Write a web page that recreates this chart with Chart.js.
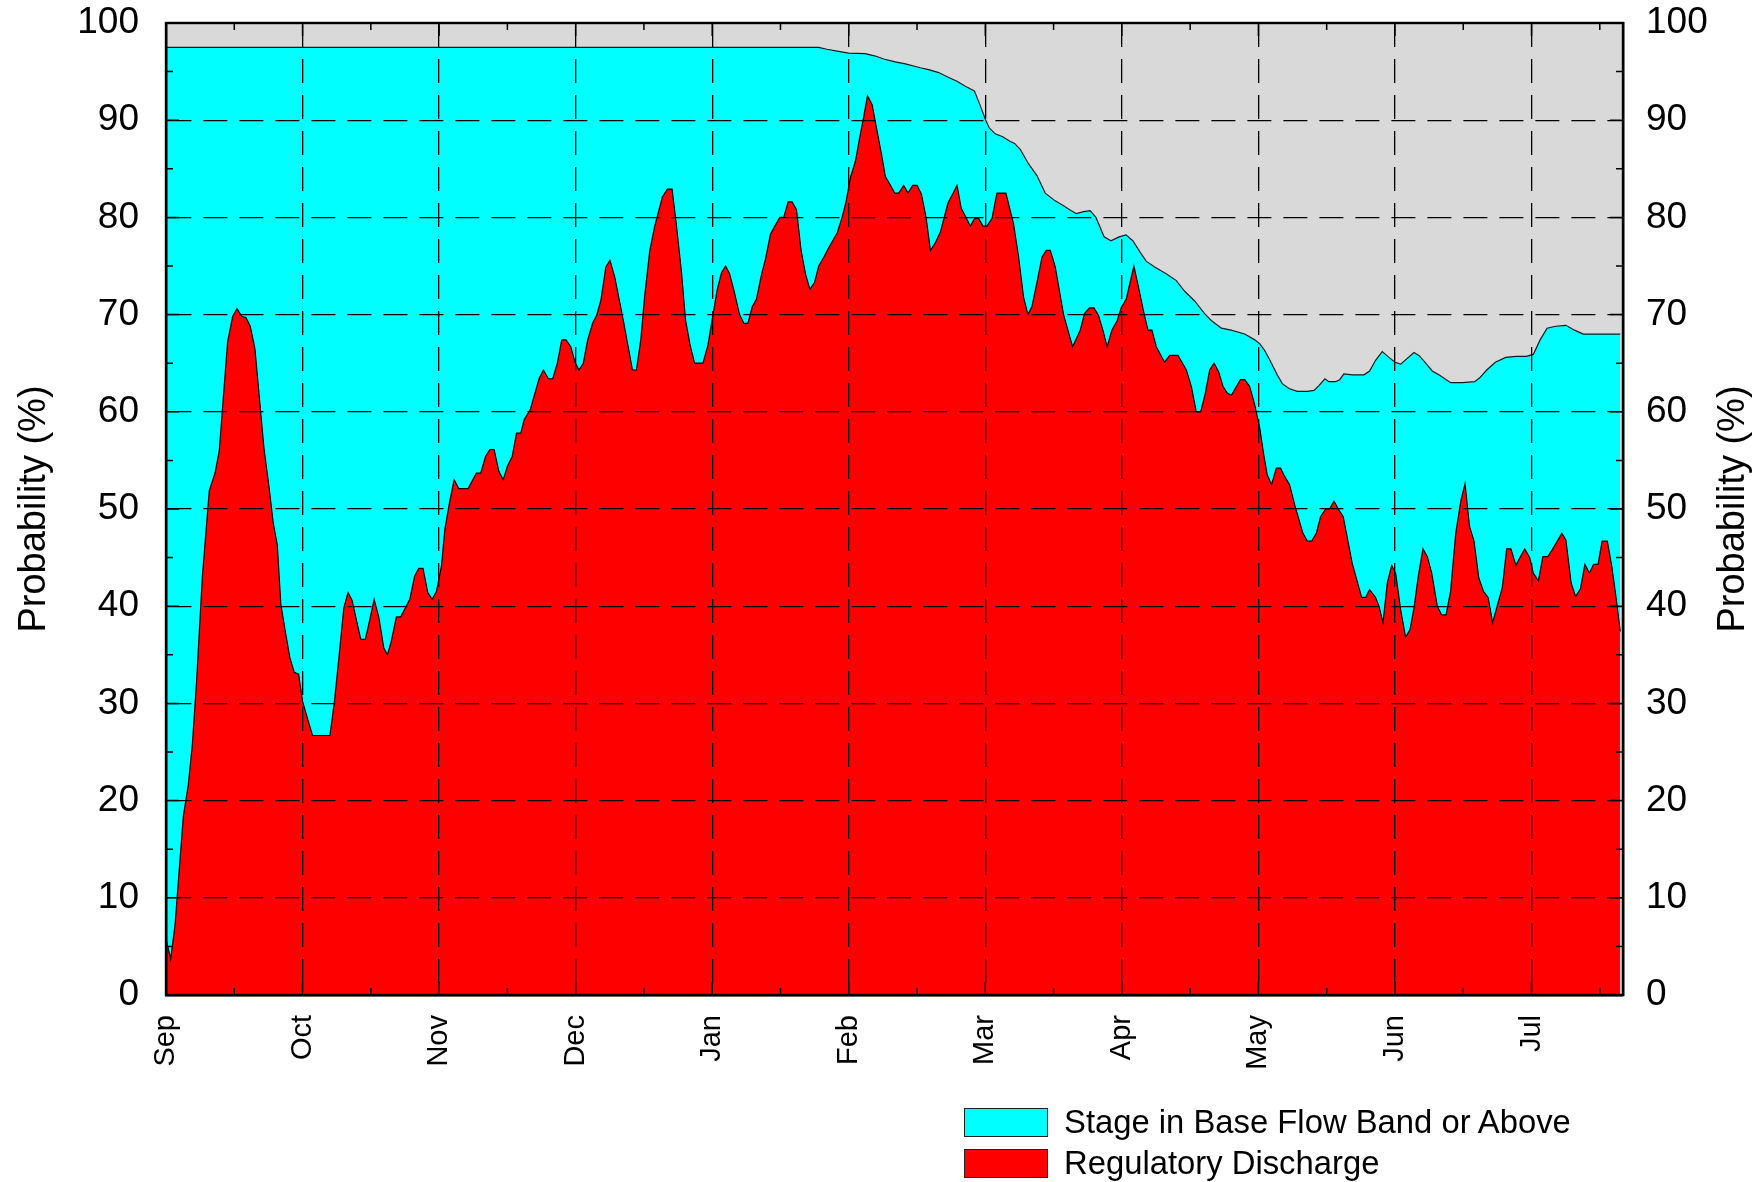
<!DOCTYPE html>
<html>
<head>
<meta charset="utf-8">
<script src="https://cdn.jsdelivr.net/npm/chart.js@4.4.0/dist/chart.umd.min.js"></script>
<style>
html,body{margin:0;padding:0;background:#fff;width:1763px;height:1182px;overflow:hidden;}
#wrap{position:relative;width:1763px;height:1182px;}
#c{position:absolute;left:0;top:0;}
.lg-box{position:absolute;left:964px;width:84px;height:29px;box-sizing:border-box;border:1.5px solid #222;}
.lg-txt{position:absolute;left:1064px;height:29px;line-height:29px;font-family:'Liberation Sans',Arial,sans-serif;font-size:32.8px;color:#000;white-space:nowrap;}
</style>
</head>
<body>
<div id="wrap">
<canvas id="c" width="1763" height="1182" style="width:1763px;height:1182px"></canvas>
<div class="lg-box" style="top:1108px;background:#00ffff"></div>
<div class="lg-txt" style="top:1107px">Stage in Base Flow Band or Above</div>
<div class="lg-box" style="top:1149px;background:#ff0000"></div>
<div class="lg-txt" style="top:1148px">Regulatory Discharge</div>
</div>
<script>
// x positions in months since Sep 1 (0 = Sep, 1 = Oct, ...)
const monthLabels = ['Sep','Oct','Nov','Dec','Jan','Feb','Mar','Apr','May','Jun','Jul'];
const yTickValues = [0,10,20,30,40,50,60,70,80,90,100];

const stageX = [0,4.78,4.84,4.915,5.0,5.12,5.195,5.256,5.341,5.415,5.524,5.585,5.659,5.732,5.793,5.854,5.92,5.963,6.0,6.029,6.073,6.127,6.183,6.215,6.256,6.317,6.378,6.439,6.512,6.573,6.627,6.666,6.72,6.768,6.81,6.87,6.92,6.98,7.03,7.08,7.13,7.178,7.24,7.325,7.399,7.46,7.533,7.606,7.655,7.729,7.8,7.9,7.973,8.01,8.046,8.077,8.138,8.175,8.224,8.284,8.358,8.407,8.443,8.487,8.516,8.565,8.595,8.626,8.687,8.773,8.814,8.858,8.907,8.956,9.0,9.042,9.09,9.139,9.176,9.225,9.273,9.322,9.408,9.495,9.584,9.621,9.672,9.735,9.811,9.886,9.962,10.013,10.063,10.114,10.177,10.252,10.315,10.379,10.479,10.65];
const stageY = [97.5,97.5,97.3,97.1,96.9,96.85,96.6,96.3,96.0,95.8,95.4,95.2,94.9,94.4,94.0,93.5,93.0,91.5,90.1,89.2,88.6,88.3,87.8,87.6,87.0,85.5,84.3,82.5,81.7,81.2,80.7,80.4,80.6,80.7,80.0,78.0,77.6,78.0,78.2,77.6,76.5,75.5,74.9,74.2,73.5,72.4,71.4,70.1,69.4,68.6,68.4,68.0,67.4,67.0,66.3,65.5,63.8,62.9,62.4,62.1,62.1,62.2,62.7,63.4,63.1,63.1,63.3,63.9,63.8,63.8,64.2,65.3,66.2,65.6,65.1,64.9,65.5,66.1,65.8,65.0,64.2,63.8,63.0,63.0,63.1,63.5,64.3,65.1,65.6,65.7,65.7,65.9,67.4,68.6,68.8,68.9,68.4,68.0,68.0,68.0];

const regX = [0,0.034,0.066,0.127,0.163,0.193,0.224,0.266,0.317,0.359,0.39,0.451,0.488,0.52,0.556,0.585,0.617,0.651,0.717,0.754,0.785,0.815,0.841,0.876,0.907,0.939,0.971,1.0,1.037,1.073,1.2,1.232,1.266,1.302,1.333,1.363,1.394,1.426,1.46,1.492,1.524,1.558,1.595,1.621,1.65,1.687,1.719,1.785,1.821,1.851,1.882,1.917,1.949,1.98,2.017,2.042,2.078,2.11,2.144,2.212,2.273,2.305,2.34,2.371,2.403,2.437,2.469,2.5,2.535,2.567,2.598,2.623,2.667,2.732,2.764,2.8,2.832,2.866,2.898,2.929,2.964,2.995,3.024,3.056,3.088,3.124,3.153,3.185,3.221,3.251,3.287,3.353,3.416,3.445,3.477,3.506,3.543,3.579,3.635,3.672,3.706,3.737,3.774,3.805,3.839,3.871,3.932,3.968,4.0,4.037,4.068,4.098,4.127,4.159,4.2,4.232,4.261,4.293,4.324,4.359,4.39,4.427,4.459,4.495,4.524,4.556,4.585,4.617,4.651,4.683,4.715,4.749,4.78,4.817,4.854,4.915,4.951,4.98,5.012,5.049,5.08,5.11,5.137,5.171,5.207,5.237,5.268,5.305,5.337,5.366,5.402,5.434,5.468,5.5,5.532,5.566,5.598,5.634,5.671,5.727,5.761,5.793,5.824,5.859,5.89,5.922,5.951,5.983,6.012,6.049,6.085,6.151,6.207,6.244,6.28,6.312,6.341,6.378,6.415,6.446,6.476,6.512,6.573,6.639,6.695,6.726,6.763,6.795,6.829,6.861,6.892,6.927,6.966,6.995,7.032,7.088,7.122,7.161,7.191,7.22,7.252,7.313,7.35,7.411,7.472,7.509,7.545,7.577,7.611,7.643,7.675,7.709,7.741,7.773,7.802,7.839,7.868,7.9,7.936,7.973,8.01,8.04,8.065,8.096,8.131,8.162,8.194,8.228,8.272,8.326,8.358,8.39,8.424,8.455,8.492,8.521,8.553,8.59,8.621,8.687,8.756,8.785,8.814,8.858,8.883,8.912,8.944,8.976,9.005,9.042,9.078,9.11,9.139,9.171,9.205,9.237,9.269,9.31,9.342,9.374,9.407,9.445,9.483,9.513,9.546,9.579,9.614,9.649,9.682,9.715,9.748,9.786,9.818,9.849,9.886,9.919,9.95,9.987,10.013,10.05,10.083,10.119,10.151,10.189,10.222,10.252,10.29,10.323,10.358,10.391,10.424,10.454,10.487,10.517,10.555,10.588,10.618,10.65];
const regY = [5.8,3.7,7.2,18.4,21.6,25.8,32.3,43,51.9,53.7,56,67.2,69.8,70.6,69.8,69.7,68.8,66.5,56.3,52.3,48.6,46.3,40.2,37.2,34.7,33.2,33.0,30.2,28.4,26.7,26.7,30,34.7,39.8,41.4,40.6,38.6,36.6,36.6,38.6,40.7,38.9,35.7,35.0,36.4,38.9,38.9,40.7,43.1,43.9,43.9,41.4,40.7,41.5,44.1,47.9,50.8,53.0,52.1,52.1,53.7,53.7,55.4,56.1,56.1,53.9,53.0,54.4,55.4,57.8,57.8,59.2,60.2,63.4,64.3,63.4,63.4,65,67.4,67.4,66.7,65.1,64.3,65,67.4,69.1,69.9,71.5,74.9,75.6,73.8,69.1,64.3,64.3,67.4,72,76.6,79.1,82.1,82.9,82.9,79.3,74.5,69.4,66.8,65,65,66.8,69.5,72.6,74.3,75.0,74.2,72.5,70,69.1,69.1,70.8,71.6,74,75.7,78.3,79.1,80,80,81.6,81.6,80.8,76.6,74.2,72.6,73.3,75,75.9,76.9,78.4,80,81.6,84.1,85.8,88.2,90.4,92.5,91.6,88.9,86.7,84.2,83.3,82.5,82.5,83.3,82.5,83.3,83.3,82.4,80,76.6,77.4,78.5,81.5,82.4,83.3,80.9,80,79.1,79.9,79.9,79.1,79.1,79.9,82.5,82.5,79.3,75.9,71.8,70,70.8,73.3,75.9,76.6,76.6,74.9,70,66.7,68.4,70.1,70.7,70.7,69.9,68.4,66.7,68.4,69.4,70.7,71.6,75.0,72.8,70.2,68.4,68.4,66.7,65.1,65.8,65.8,64.3,62.6,60.0,60.0,61.9,64.3,65.0,64.1,62.6,61.9,61.7,62.6,63.3,63.3,62.6,60.7,58.3,55.5,53.5,52.5,54.2,54.2,53.3,52.5,50.1,47.5,46.7,46.7,47.5,49.2,50.0,50.0,50.8,49.9,49.2,44.4,40.9,40.9,41.7,40.9,40.0,38.3,42.4,44.2,43.4,39.6,36.8,37.6,39.8,43.1,45.9,45.1,43.4,40.0,39.1,39.1,41.5,47.5,50.9,52.6,48.2,46.7,42.9,41.5,40.9,38.3,40,41.9,45.9,45.9,44.2,45.1,45.9,45.0,43.4,42.6,45.1,45.1,45.8,46.7,47.5,46.8,42.4,41.0,41.8,44.3,43.4,44.3,44.3,46.7,46.7,44.1,41.0,37.4];

const toPts = (xs, ys) => xs.map((x, i) => ({x: x, y: ys[i]}));

const FONT = "'Liberation Sans', Arial, sans-serif";

const framePlugin = {
  id: 'frame',
  beforeDraw(chart) {
    const {ctx, chartArea: a} = chart;
    ctx.save();
    ctx.fillStyle = '#d9d9d9';
    ctx.fillRect(a.left, a.top, a.right - a.left, a.bottom - a.top);
    ctx.restore();
  },
  afterDraw(chart) {
    const {ctx, chartArea: a} = chart;
    const xs = chart.scales.x, ys = chart.scales.y;
    ctx.save();
    ctx.strokeStyle = '#000';
    ctx.lineWidth = 1.5;
    ctx.beginPath();
    for (let v = 0; v <= 100; v += 5) {
      const py = ys.getPixelForValue(v);
      const len = (v % 10 === 0) ? 13 : 7;
      ctx.moveTo(a.left, py); ctx.lineTo(a.left + len, py);
      ctx.moveTo(a.right, py); ctx.lineTo(a.right - len, py);
    }
    for (let m = 0; m <= 10.5; m += 0.5) {
      const px = xs.getPixelForValue(m);
      const len = (m % 1 === 0) ? 13 : 7;
      ctx.moveTo(px, a.top); ctx.lineTo(px, a.top + len);
      ctx.moveTo(px, a.bottom); ctx.lineTo(px, a.bottom - len);
    }
    ctx.stroke();
    ctx.lineWidth = 2.4;
    ctx.strokeRect(a.left, a.top, a.right - a.left, a.bottom - a.top);
    ctx.fillStyle = '#000';
    ctx.font = '38px ' + FONT;
    ctx.textAlign = 'center';
    ctx.textBaseline = 'middle';
    ctx.translate(1734, (a.top + a.bottom) / 2);
    ctx.rotate(-Math.PI / 2);
    ctx.fillText('Probability (%)', 0, 0);
    ctx.restore();
  }
};

const gridCommon = {color: '#000', lineWidth: 1.3, drawTicks: false, z: 1};
const borderCommon = {color: '#000', width: 2.4, dash: [24, 12], z: 1};

new Chart(document.getElementById('c'), {
  type: 'line',
  data: {
    datasets: [
      {
        label: 'Regulatory Discharge',
        data: toPts(regX, regY),
        backgroundColor: '#ff0000',
        borderColor: '#000',
        borderWidth: 1.2,
        fill: 'origin',
        pointRadius: 0,
        tension: 0
      },
      {
        label: 'Stage in Base Flow Band or Above',
        data: toPts(stageX, stageY),
        backgroundColor: '#00ffff',
        borderColor: '#1a1a1a',
        borderWidth: 1.2,
        fill: 'origin',
        pointRadius: 0,
        tension: 0
      }
    ]
  },
  options: {
    responsive: false,
    animation: false,
    devicePixelRatio: 1,
    layout: {padding: {top: 23, left: 0, right: 0, bottom: 0}},
    plugins: {legend: {display: false}, tooltip: {enabled: false}},
    scales: {
      x: {
        type: 'linear', position: 'bottom', min: 0, max: 10.67,
        afterFit(s) { s.height = 187; },
        grid: gridCommon,
        border: borderCommon,
        ticks: {
          stepSize: 1, includeBounds: false, autoSkip: false,
          minRotation: 90, maxRotation: 90, padding: 20, z: 1,
          color: '#000', font: {family: FONT, size: 29},
          callback: (v) => monthLabels[Math.round(v)] ?? ''
        }
      },
      y: {
        type: 'linear', position: 'left', min: 0, max: 100,
        afterFit(s) { s.width = 166; s.paddingTop = 0; s.paddingBottom = 0; },
        grid: gridCommon,
        border: borderCommon,
        afterBuildTicks(s) { s.ticks = yTickValues.map(v => ({value: v})); },
        ticks: {padding: 27, z: 1, color: '#000', font: {family: FONT, size: 37}},
        title: {display: true, text: 'Probability (%)', color: '#000', font: {family: FONT, size: 38}, padding: {top: 12, bottom: 0}}
      },
      y2: {
        type: 'linear', position: 'right', min: 0, max: 100,
        afterFit(s) { s.width = 140; s.paddingTop = 0; s.paddingBottom = 0; },
        grid: {display: false, drawTicks: false},
        border: {color: '#000', width: 2.4, z: 1},
        afterBuildTicks(s) { s.ticks = yTickValues.map(v => ({value: v})); },
        ticks: {padding: 23, z: 1, color: '#000', font: {family: FONT, size: 37}}
      }
    }
  },
  plugins: [framePlugin]
});
</script>
</body>
</html>
